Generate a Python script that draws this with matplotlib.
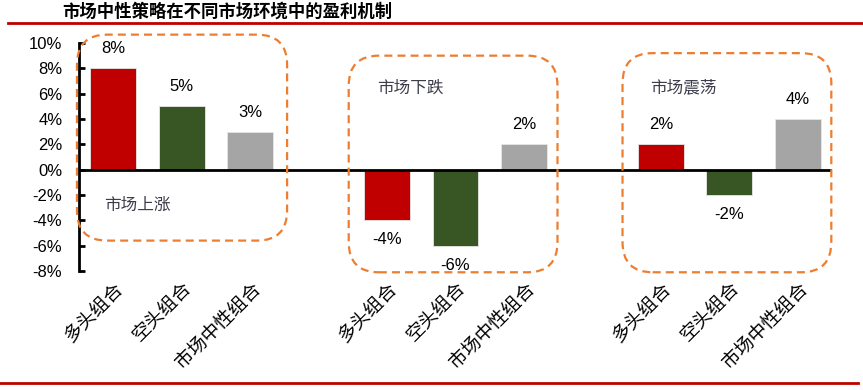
import matplotlib
matplotlib.use("Agg")
import matplotlib.pyplot as plt
import numpy as np
from matplotlib.lines import Line2D
from matplotlib.patches import FancyBboxPatch
from matplotlib.ticker import FuncFormatter

plt.rcParams['font.family'] = ['Liberation Sans', 'Noto Sans CJK SC']

# data
scenarios = ['市场上涨', '市场下跌', '市场震荡']
portfolios = ['多头组合', '空头组合', '市场中性组合']
long_vals = [8, -4, 2]
short_vals = [5, -6, -2]
neutral_vals = [3, 2, 4]
colors = ['#C00000', '#375623', '#A5A5A5']

W, H = 863, 390
fig = plt.figure(figsize=(W / 100, H / 100), dpi=100)
ax = fig.add_axes([79 / W, (H - 271) / H, (832 - 79) / W, (271 - 43) / H])

series = [long_vals, short_vals, neutral_vals]
xpos, xlab = [], []
for g in range(len(scenarios)):
    for i, vals in enumerate(series):
        x = g * 4 + i
        v = vals[g]
        ax.bar(x, v, width=0.67, color=colors[i], edgecolor='#e6e6e6', linewidth=0.6, zorder=2)
        off = 14 if v >= 0 else -14
        ax.annotate(f'{v}%', (x, v), xytext=(0, off), textcoords='offset points',
                    ha='center', va='center', fontsize=12)
        xpos.append(x)
        xlab.append(portfolios[i])

ax.axhline(0, color='black', lw=2, zorder=3)
ax.set_xlim(-0.5, 10.5)
ax.set_ylim(-8, 10)
ax.set_yticks(np.arange(-8, 11, 2))
ax.yaxis.set_major_formatter(FuncFormatter(lambda v, p: f'{v:.0f}%'))
ax.tick_params(axis='y', direction='in', length=4, width=2, pad=12, labelsize=12)
ax.set_xticks(xpos)
ax.set_xticklabels(xlab, rotation=45, ha='right', rotation_mode='anchor',
                   fontsize=13.5, family=['Noto Sans CJK SC'], fontweight='light')
ax.tick_params(axis='x', length=0, pad=5)
for s in ['top', 'right', 'bottom']:
    ax.spines[s].set_visible(False)
ax.spines['left'].set_linewidth(2)

# dashed rounded boxes around each scenario
aspect = ((753 / 11) / (228 / 18))
boxes = [(-0.53, -5.6, 2.54, 10.66), (3.44, -8.1, 6.49, 9.0), (7.44, -8.1, 10.49, 9.2)]
for x0, y0, x1, y1 in boxes:
    p = FancyBboxPatch((x0, y0), x1 - x0, y1 - y0,
                       boxstyle='round,pad=0,rounding_size=0.44',
                       mutation_aspect=aspect, fill=False, edgecolor='#ED7D31',
                       lw=1.6, linestyle=(0, (3.6, 2.3)), clip_on=False, zorder=4)
    ax.add_patch(p)

label_pos = [(-0.14, -2.8), (3.86, 6.45), (7.84, 6.45)]
for name, (lx, ly) in zip(scenarios, label_pos):
    ax.text(lx, ly, name, ha='left', va='center', fontsize=12,
            color='#3C3C4A', family=['Noto Sans CJK SC'])

fig.text(62 / W, 1 - 12 / H, '市场中性策略在不同市场环境中的盈利机制',
         ha='left', va='center', fontsize=12.5, fontweight='bold',
         family=['Noto Sans CJK SC'])
fig.add_artist(Line2D([8 / W, 1], [1 - 23 / H] * 2, color='#C00000', lw=2))
fig.add_artist(Line2D([0, 858 / W], [1 - 383 / H] * 2, color='#C00000', lw=2))

fig.savefig('out.png', dpi=100)
